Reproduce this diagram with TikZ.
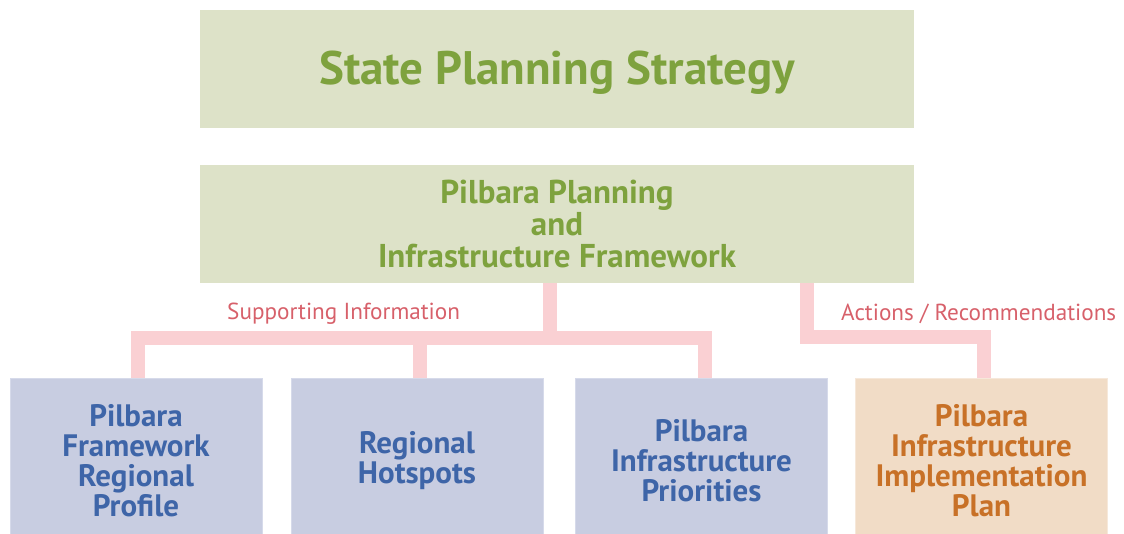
\documentclass[tikz,border=0pt]{standalone}
\usepackage{fontspec}
\setmainfont{PT Sans}
\definecolor{gbox}{HTML}{DDE2C8}
\definecolor{gtext}{HTML}{7EA23E}
\definecolor{bbox}{HTML}{C8CDE1}
\definecolor{bedge}{HTML}{D6DAEA}
\definecolor{btext}{HTML}{3E65A8}
\definecolor{obox}{HTML}{F1DCC6}
\definecolor{oedge}{HTML}{F6E8DA}
\definecolor{otext}{HTML}{C87127}
\definecolor{pink}{HTML}{FAD0D3}
\definecolor{lred}{HTML}{D7606A}
\begin{document}
\begin{tikzpicture}[x=1pt,y=-1pt,
  topbox/.style={fill=gbox,draw=none,minimum width=714pt,minimum height=118pt,inner sep=0pt,
    text=gtext,font=\bfseries\fontsize{33}{32}\selectfont,align=center},
  subbox/.style={fill=bbox,draw=bedge,line width=1pt,minimum width=252pt,minimum height=165pt,inner sep=0pt,
    text=btext,font=\bfseries\fontsize{31}{30}\selectfont,align=center},
  planbox/.style={subbox,fill=obox,draw=oedge,text=otext},
  conn/.style={draw=pink,line width=14pt,line join=miter,line cap=butt},
  lbl/.style={text=lred,font=\fontsize{23.2}{26}\selectfont,inner sep=0pt}]
\useasboundingbox (0,0) rectangle (1124,533);
\node[topbox,font=\bfseries\fontsize{47}{52}\selectfont] (sps) at (557,69)
  {\raisebox{-4pt}[\height][\depth]{State Planning Strategy}};
\node[topbox] (ppif) at (557,224) {Pilbara Planning\\and\\Infrastructure Framework};
\node[subbox] (b1) at (136,460.5) {Pilbara\\Framework\\Regional\\Profile};
\node[subbox] (b2) at (417,460.5) {Regional\\Hotspots};
\node[subbox] (b3) at (701.5,460.5) {Pilbara\\Infrastructure\\Priorities};
\node[planbox] (b4) at (981.5,460.5) {Pilbara\\Infrastructure\\Implementation\\Plan};
% connectors
\coordinate (j) at (549.5,337.5);
\draw[conn] ([xshift=-7.5pt]ppif.south) -- (j);
\draw[conn] ([xshift=2pt]b1.north) |- (j);
\draw[conn] ([xshift=3.5pt]b3.north) |- (j);
\draw[conn] ([xshift=3pt]b2.north) -- ++(0,-40.5);
\coordinate (k) at ([xshift=2.5pt,yshift=40.5pt]b4.north);
\draw[conn] ([xshift=249.5pt]ppif.south) |- (k) -- ([xshift=2.5pt]b4.north);
\node[lbl,anchor=west] (si) at (227,314) {Supporting Information};
\node[lbl,anchor=west] (ar) at (841,314) {Actions / Recommendations};
\end{tikzpicture}
\end{document}
